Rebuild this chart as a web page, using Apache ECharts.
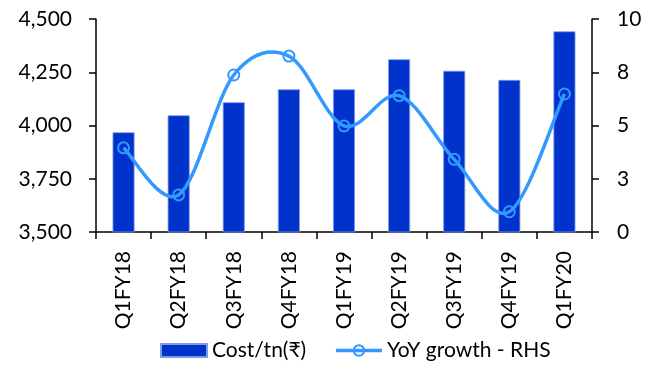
<!DOCTYPE html>
<html><head><meta charset="utf-8">
<script src="https://cdn.jsdelivr.net/npm/echarts@6/dist/echarts.min.js"></script>
<style>html,body{margin:0;padding:0;background:#fff}#c{width:660px;height:370px}</style>
</head><body><div id="c"></div>
<script>
const categories = ['Q1FY18','Q2FY18','Q3FY18','Q4FY18','Q1FY19','Q2FY19','Q3FY19','Q4FY19','Q1FY20'];
const costPerTn = [3968, 4048, 4109, 4170, 4170, 4311, 4257, 4214, 4442];
const yoyGrowth = [3.95, 1.74, 7.37, 8.26, 4.98, 6.40, 3.41, 0.95, 6.48];
const FONT = "Lato, 'Noto Sans', 'DejaVu Sans', sans-serif";
const LINE_COLOR = '#3399FF';
const chart = echarts.init(document.getElementById('c'), null, {renderer:'canvas'});

// Smooth curve (Excel-like Catmull-Rom) through the points mapped by the chart's own axes
function renderCurve(params, api) {
  if (params.dataIndex !== 0) return null;
  const pts = yoyGrowth.map((v, i) => api.coord([i, v]));
  const n = pts.length;
  let d = 'M' + pts[0][0] + ' ' + pts[0][1];
  for (let i = 0; i < n - 1; i++) {
    const p0 = pts[Math.max(i - 1, 0)], p1 = pts[i], p2 = pts[i + 1], p3 = pts[Math.min(i + 2, n - 1)];
    const c1x = p1[0] + (p2[0] - p0[0]) / 6, c1y = p1[1] + (p2[1] - p0[1]) / 6;
    const c2x = p2[0] - (p3[0] - p1[0]) / 6, c2y = p2[1] - (p3[1] - p1[1]) / 6;
    d += ' C' + c1x + ' ' + c1y + ' ' + c2x + ' ' + c2y + ' ' + p2[0] + ' ' + p2[1];
  }
  return {type:'path', shape:{pathData:d}, style:{fill:null, stroke:LINE_COLOR, lineWidth:3.5}, z2:5};
}

chart.setOption({
  animation:false,
  textStyle:{fontFamily:FONT},
  grid:{left:96,right:68,top:19,bottom:138},
  legend:{
    bottom:4, left:155, itemGap:28, itemWidth:46, itemHeight:13,
    textStyle:{fontFamily:FONT,fontSize:21,color:'#000'},
    data:[
      {name:'Cost/tn(₹)',icon:'rect'},
      {name:'YoY growth - RHS',lineStyle:{color:LINE_COLOR,width:3.5,opacity:1}}
    ]
  },
  xAxis:{
    type:'category', data:categories,
    axisLine:{lineStyle:{color:'#000',width:1.5}},
    axisTick:{show:true,alignWithLabel:false,length:7,lineStyle:{color:'#000',width:1.5}},
    axisLabel:{rotate:90,fontSize:21,color:'#000',margin:19,fontFamily:FONT}
  },
  yAxis:[{
    type:'value',min:3500,max:4500,interval:250,
    splitLine:{show:false},
    axisLine:{show:true,lineStyle:{color:'#000',width:1.5}},
    axisTick:{show:true,inside:false,length:7,lineStyle:{color:'#000',width:1.5}},
    axisLabel:{fontSize:21,color:'#000',margin:24,fontFamily:FONT,
      formatter:v=>v.toLocaleString('en-US')}
  },{
    type:'value',min:0,max:10,interval:2.5,position:'right',
    splitLine:{show:false},
    axisLine:{show:true,lineStyle:{color:'#000',width:1.5}},
    axisTick:{show:true,inside:false,length:7,lineStyle:{color:'#000',width:1.5}},
    axisLabel:{fontSize:21,color:'#000',margin:25,fontFamily:FONT,
      formatter:v=>String(Math.round(v))}
  }],
  series:[{
    name:'Cost/tn(₹)',type:'bar',data:costPerTn,barWidth:22,z:1,
    itemStyle:{color:'#0033CC',borderColor:'#7f9be8',borderWidth:0.8}
  },{
    name:'curve',type:'custom',yAxisIndex:1,z:3,
    data:yoyGrowth.map((v,i)=>[i,v]),
    encode:{x:0,y:1},
    renderItem:renderCurve
  },{
    name:'YoY growth - RHS',type:'line',yAxisIndex:1,data:yoyGrowth,z:4,
    symbol:'circle',symbolSize:11,
    lineStyle:{color:LINE_COLOR,width:3.5,opacity:0},
    itemStyle:{color:'rgba(255,255,255,0)',borderColor:LINE_COLOR,borderWidth:2}
  }]
});
</script></body></html>
